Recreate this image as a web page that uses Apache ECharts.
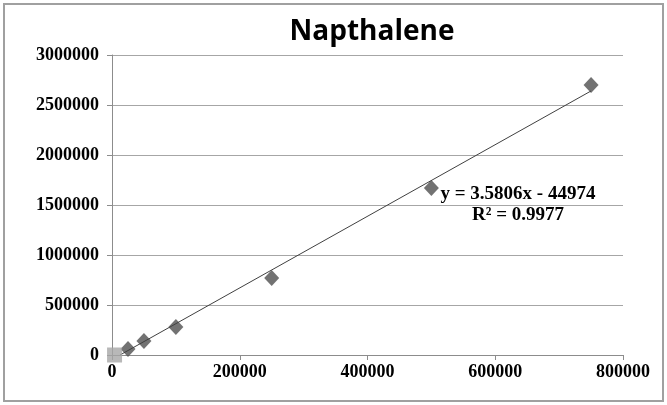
<!DOCTYPE html>
<html><head><meta charset="utf-8">
<script src="https://cdn.jsdelivr.net/npm/echarts@6/dist/echarts.min.js"></script>
<style>html,body{margin:0;padding:0;background:#fff}#c{width:667px;height:405px}</style>
</head><body><div id="c"></div>
<script>
const conc = [25000, 50000, 100000, 250000, 500000, 750000];
const area = [60000, 140000, 280000, 770000, 1670000, 2700000];
const blankX = [4000];
const blankY = [0];
const trendX = [12560, 750000];
const trendY = [0, 2640476];
const titleText = 'Napthalene';
const eqLines = ['y = 3.5806x - 44974', 'R² = 0.9977'];

const chart = echarts.init(document.getElementById('c'));
const serif = '"Liberation Serif","Times New Roman",serif';
chart.setOption({
  animation: false,
  grid: {left: 112, right: 44, top: 55, bottom: 50},
  xAxis: {
    type: 'value', min: 0, max: 800000, interval: 200000,
    axisLine: {show: true, onZero: false, lineStyle: {color: '#8c8c8c', width: 1}},
    axisTick: {show: true, length: 5, lineStyle: {color: '#8c8c8c'}},
    axisLabel: {fontFamily: serif, fontWeight: 'bold', fontSize: 18, color: '#000', margin: 8,
      formatter: v => String(v)},
    splitLine: {show: false}
  },
  yAxis: {
    type: 'value', min: 0, max: 3000000, interval: 500000,
    axisLine: {show: true, onZero: false, lineStyle: {color: '#8c8c8c', width: 1}},
    axisTick: {show: true, length: 5, lineStyle: {color: '#8c8c8c'}},
    axisLabel: {fontFamily: serif, fontWeight: 'bold', fontSize: 18, color: '#000', margin: 13,
      formatter: v => String(v)},
    splitLine: {show: true, lineStyle: {color: '#a6a6a6', width: 1}}
  },
  series: [
    {
      type: 'line', data: trendX.map((x, i) => [x, trendY[i]]),
      symbol: 'none', lineStyle: {color: '#404040', width: 1}, z: 3
    },
    {
      type: 'scatter', data: conc.map((x, i) => [x, area[i]]),
      symbol: 'diamond', symbolSize: [15, 16], itemStyle: {color: '#4f4f4f'}, z: 2
    },
    {
      type: 'scatter', data: blankX.map((x, i) => [x, blankY[i]]),
      symbol: 'rect', symbolSize: 15, itemStyle: {color: '#a6a6a6'}, z: 4
    }
  ],
  graphic: [
    {type: 'rect', shape: {x: 4, y: 4, width: 659, height: 397},
     style: {fill: 'none', stroke: '#a0a0a0', lineWidth: 2}, silent: true},
    {type: 'text', x: 372, y: 32, style: {text: titleText, align: 'center', verticalAlign: 'middle',
      font: 'bold 28px "Open Sans", sans-serif', fill: '#000'}},
    {type: 'text', x: 518, y: 194, style: {text: eqLines[0], align: 'center', verticalAlign: 'middle',
      font: 'bold 19px "Liberation Serif", serif', fill: '#000'}},
    {type: 'text', x: 518, y: 215, style: {text: eqLines[1], align: 'center', verticalAlign: 'middle',
      font: 'bold 19px "Liberation Serif", serif', fill: '#000'}}
  ]
});
</script></body></html>
